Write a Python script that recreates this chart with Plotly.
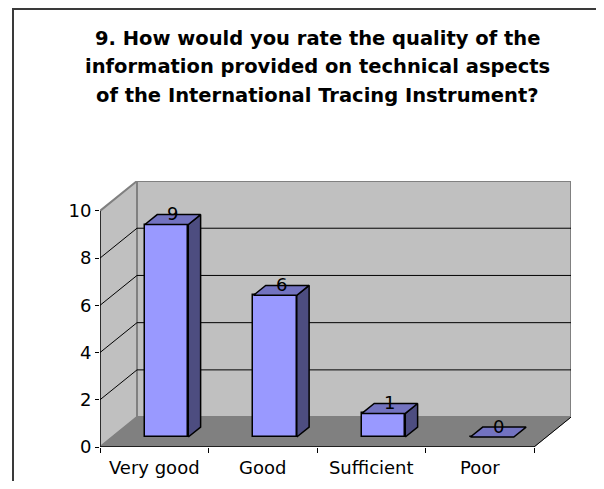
import plotly.graph_objects as go

# ---- data ----
categories = ["Very good", "Good", "Sufficient", "Poor"]
values = [9, 6, 1, 0]
y_ticks = [0, 2, 4, 6, 8, 10]
title_lines = [
    "9. How would you rate the quality of the",
    "information provided on technical aspects",
    "of the International Tracing Instrument?",
]

# ---- 3D (oblique) geometry in data units ----
N = len(categories)
YMAX = 10
DX = 0.341    # depth shift in category units
DY = 1.266    # depth shift in value units
D1, D2 = 1 / 3, 2 / 3   # bar front / back depth planes
BW = 0.4               # bar width (category units)

FONT = "DejaVu Sans"
WALL = "#C0C0C0"
FLOOR = "#808080"
EDGE = "#808080"
FRONT = "#9999FF"
TOP = "#7373C0"
SIDE = "#4D4D80"

# target screen pixel box of the plot area (page coordinates)
OFF = 8   # page body margin (each side)
L, R, T, B = 100, 571, 181, 447
PAGE_W, PAGE_H = 604, 489
W_FIG, H_FIG = PAGE_W - 2 * OFF, PAGE_H - 2 * OFF

fig = go.Figure()
shapes = []


def path_shape(xs, ys, fill=None, line_color=None, lw=1.0, close=True,
               ref="", layer="below"):
    d = "M " + " L ".join(f"{x},{y}" for x, y in zip(xs, ys))
    if close:
        d += " Z"
    s = dict(type="path", path=d, xref="x" if not ref else ref,
             yref="y" if not ref else ref, layer=layer,
             line=dict(color=line_color or "rgba(0,0,0,0)",
                       width=lw if line_color else 0))
    if fill:
        s["fillcolor"] = fill
    shapes.append(s)


# walls and floor
path_shape([DX, N + DX, N + DX, DX], [DY, DY, YMAX + DY, YMAX + DY], WALL, EDGE, 2)
path_shape([0, DX, DX, 0], [0, DY, YMAX + DY, YMAX], WALL, EDGE, 2)
path_shape([0, N, N + DX, DX], [0, 0, DY, DY], FLOOR, FLOOR, 1)

# gridlines
for v in y_ticks[1:-1]:
    path_shape([0, DX, N + DX], [v, v + DY, v + DY], None, "black", 1, close=False)

# floor right edge and axis lines
path_shape([N, N + DX], [0, DY], None, "black", 1, close=False)
path_shape([0, N], [0, 0], None, "black", 1.3, close=False)
path_shape([0, 0], [0, YMAX], None, "black", 1.3, close=False)

# bars: front faces via go.Bar
xc = [i + 0.5 for i in range(N)]
fig.add_trace(go.Bar(
    x=[c + D1 * DX for c in xc], y=values, base=D1 * DY, width=BW,
    marker=dict(color=FRONT, line=dict(color="black", width=1.5)),
    hoverinfo="skip", showlegend=False))


def poly(xs, ys, fill):
    fig.add_trace(go.Scatter(
        x=list(xs) + [xs[0]], y=list(ys) + [ys[0]], mode="lines",
        fill="toself", fillcolor=fill, line=dict(color="black", width=1.5),
        hoverinfo="skip", showlegend=False))


ddx, ddy = (D2 - D1) * DX, (D2 - D1) * DY
for c, v in zip(xc, values):
    x0 = c - BW / 2 + D1 * DX
    x1 = c + BW / 2 + D1 * DX
    y0 = D1 * DY
    if v > 0:
        poly([x1, x1 + ddx, x1 + ddx, x1],
             [y0, y0 + ddy, y0 + ddy + v, y0 + v], SIDE)
    poly([x0, x1, x1 + ddx, x0 + ddx],
         [y0 + v, y0 + v, y0 + v + ddy, y0 + v + ddy], TOP)

# value labels
annotations = []
for c, v in zip(xc, values):
    annotations.append(dict(
        x=c + 0.5 * DX, y=v + 0.5 * DY, text=str(v), showarrow=False,
        xref="x", yref="y", yanchor="middle", yshift=6,
        font=dict(family=FONT, size=18, color="black")))


def px_to_paper_y(py):
    return (B - py) / (B - T)


def px_to_paper_x(px):
    return (px - L) / (R - L)


title_centers = [38, 67, 95]
for txt, cy in zip(title_lines, title_centers):
    annotations.append(dict(
        x=px_to_paper_x(317), y=px_to_paper_y(cy), xref="paper", yref="paper",
        text=f"<b>{txt}</b>", showarrow=False, xanchor="center", yanchor="middle",
        font=dict(family=FONT, size=19.5, color="black")))

# outer frame (top and left edges; the rest lies outside the picture)
path_shape([px_to_paper_x(PAGE_W - OFF), px_to_paper_x(13), px_to_paper_x(13)],
           [px_to_paper_y(OFF + 1), px_to_paper_y(OFF + 1), px_to_paper_y(PAGE_H - OFF)],
           None, "#3a3a3a", 2, close=False, ref="paper")

fig.update_layout(
    width=W_FIG, height=H_FIG,
    margin=dict(l=L - OFF, r=PAGE_W - OFF - R, t=T - OFF, b=PAGE_H - OFF - B,
                pad=0, autoexpand=False),
    paper_bgcolor="white", plot_bgcolor="white",
    showlegend=False, bargap=0,
    annotations=annotations, shapes=shapes,
    xaxis=dict(
        range=[0, N + DX], showgrid=False, zeroline=False, showline=False,
        automargin=False,
        tickmode="array", tickvals=xc, ticktext=categories, ticks="",
        ticklabelstandoff=8,
        tickfont=dict(family=FONT, size=18, color="black"),
        minor=dict(tickmode="array", tickvals=list(range(N + 1)),
                   ticks="outside", ticklen=5, tickcolor="black", tickwidth=1,
                   showgrid=False),
        fixedrange=True),
    yaxis=dict(
        range=[0, YMAX + DY], showgrid=False, zeroline=False, showline=False,
        automargin=False,
        tickmode="array", tickvals=y_ticks, ticks="outside", ticklen=4,
        tickcolor="black", tickfont=dict(family=FONT, size=18, color="black"),
        fixedrange=True),
)

fig.write_html("out.html")
